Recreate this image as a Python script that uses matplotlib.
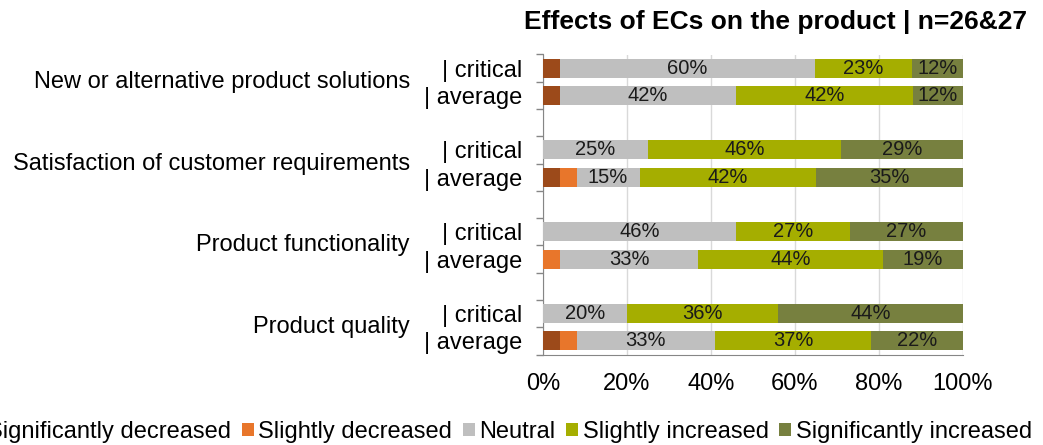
import matplotlib
matplotlib.use("Agg")
import matplotlib.pyplot as plt
import matplotlib.transforms as mtransforms
import numpy as np

plt.rcParams['font.family'] = ['Liberation Sans', 'DejaVu Sans']

title = "Effects of ECs on the product | n=26&27"
groups = ["New or alternative product solutions",
          "Satisfaction of customer requirements",
          "Product functionality",
          "Product quality"]
subgroups = ["| critical", "| average"]
series = ["Significantly decreased", "Slightly decreased", "Neutral",
          "Slightly increased", "Significantly increased"]
colors = ["#9C4A1A", "#E8762B", "#BFBFBF", "#A5AE00", "#77803F"]

# rows: (group, subgroup) order top to bottom
sig_dec = [4, 4, 0, 4, 0, 0, 0, 4]
sli_dec = [0, 0, 0, 4, 0, 4, 0, 4]
neutral = [60, 42, 25, 15, 46, 33, 20, 33]
sli_inc = [23, 42, 46, 42, 27, 44, 36, 37]
sig_inc = [12, 12, 29, 35, 27, 19, 44, 22]
xticks = [0, 20, 40, 60, 80, 100]
xticklabels = ["0%", "20%", "40%", "60%", "80%", "100%"]

W, H = 1043, 445
fig = plt.figure(figsize=(W / 100, H / 100), dpi=100)
ax = fig.add_axes([543 / W, 1 - 354.5 / H, (963 - 543) / W, 300 / H])

data = np.array([sig_dec, sli_dec, neutral, sli_inc, sig_inc], dtype=float)
totals = data.sum(axis=0)
pct = data / totals * 100

LBL = 17
nrows = len(groups) * 2
ypos = [3 * (i // 2) + (i % 2) for i in range(nrows)]
left = np.zeros(nrows)
for k in range(len(series)):
    ax.barh(ypos, pct[k], left=left, height=0.7, color=colors[k],
            label=series[k], zorder=3)
    for r in range(nrows):
        v = data[k, r]
        if v >= 10:
            ax.text(left[r] + pct[k, r] / 2, ypos[r], f"{int(v)}%",
                    ha='center', va='center', fontsize=14.5, color='#1a1a1a',
                    zorder=4)
    left += pct[k]

ax.set_xlim(0, 100)
ax.set_ylim(10.5, -0.5)
ax.set_xticks(xticks)
ax.set_xticklabels(xticklabels, fontsize=LBL)
ax.tick_params(axis='x', length=0, pad=13)
ax.xaxis.grid(True, color='#D9D9D9', linewidth=1, zorder=0)
ax.set_axisbelow(True)

ax.set_yticks(ypos)
ax.set_yticklabels([subgroups[i % 2] for i in range(nrows)], fontsize=LBL)
ax.set_yticks(np.arange(-0.5, 11, 1), minor=True)
ax.tick_params(axis='y', which='major', length=0, pad=15)
ax.tick_params(axis='y', which='minor', length=5, color='#868686', width=1)

for s in ['top', 'right']:
    ax.spines[s].set_visible(False)
for s in ['left', 'bottom']:
    ax.spines[s].set_color('#868686')

trans = mtransforms.blended_transform_factory(fig.transFigure, ax.transData)
for g, name in enumerate(groups):
    ax.text(410 / W, 3 * g + 0.5, name, transform=trans, ha='right',
            va='center', fontsize=LBL)

fig.text(775 / W, 1 - 22 / H, title, ha='center', va='center',
         fontsize=19, fontweight='bold')

leg = fig.legend(loc='center right', bbox_to_anchor=(1032 / W, 1 - 432 / H),
                 ncol=5, frameon=False, fontsize=LBL, handlelength=0.5,
                 handleheight=0.5, handletextpad=0.2, columnspacing=0.45,
                 borderaxespad=0, borderpad=0)

fig.savefig("out.png", dpi=100)
